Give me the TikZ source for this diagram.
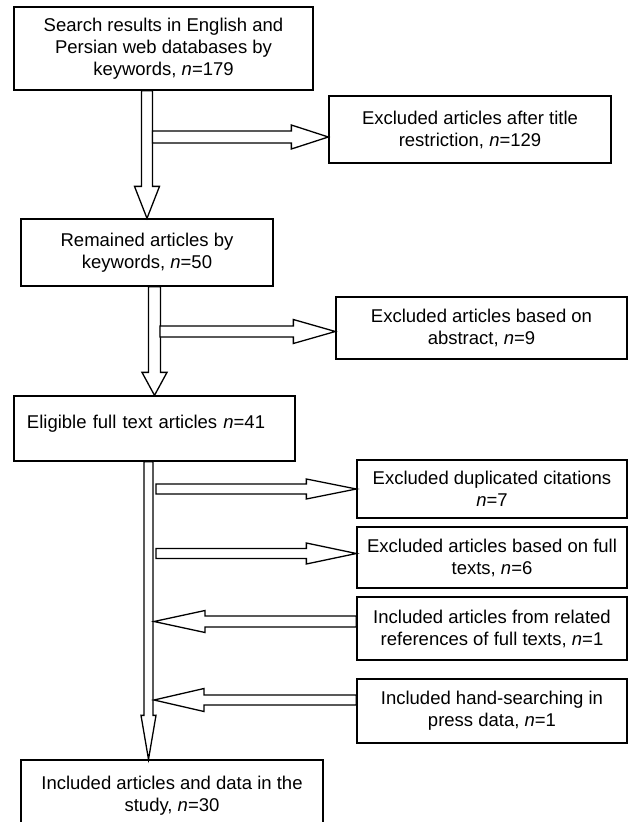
\documentclass[tikz,border=0pt]{standalone}
\usepackage{fontspec}
\setmainfont{Liberation Sans}
\usetikzlibrary{calc}

\newcommand{\nn}[1]{\textit{n}=#1}
% from, to, shaft half width, head half width, head length
\newcommand{\fatarrow}[5]{%
  \coordinate (fa-h) at ($(#2)!#5!(#1)$);
  \draw[fatline] ($(#1)!#3!90:(#2)$) -- ($(fa-h)!#3!90:(#2)$)
    -- ($(fa-h)!#4!90:(#2)$) -- (#2) -- ($(fa-h)!#4!-90:(#2)$)
    -- ($(fa-h)!#3!-90:(#2)$) -- ($(#1)!#3!-90:(#2)$) -- cycle;
}

\begin{document}
\begin{tikzpicture}[x=1pt, y=-1pt, line width=1.3pt,
    box/.style={draw, align=center, inner sep=2pt, font=\fontsize{18.5}{22}\selectfont},
    fatline/.style={draw, fill=white, line join=miter}]
    \clip (0,0) rectangle (628,822);

    % Main column
    \node[box, minimum width=299pt, minimum height=83pt] (search) at (163.5,48.5)
        {Search results in English and\\ Persian web databases by\\ keywords, \nn{179}};
    \node[box, minimum width=252pt, minimum height=67pt] (remained) at (147,252.5)
        {Remained articles by\\ keywords, \nn{50}};
    \node[box, align=left, text width=255pt, inner xsep=13pt, text depth=14pt,
        minimum height=65pt] (eligible) at (154.5,428.5)
        {Eligible full text articles \nn{41}};
    \node[box, minimum width=302pt, minimum height=72pt] (included) at (172,796)
        {Included articles and data in the\\ study, \nn{30}};

    % Side boxes
    \node[box, minimum width=282pt, minimum height=67pt] (titleex) at (470,129.5)
        {Excluded articles after title\\ restriction, \nn{129}};
    \node[box, minimum width=291pt, minimum height=62pt] (abstractex) at (481.5,328)
        {Excluded articles based on\\ abstract, \nn{9}};
    \node[box, minimum width=270pt, minimum height=58pt] (dup) at (492,489)
        {Excluded duplicated citations\\ \nn{7}};
    \node[box, minimum width=270pt, minimum height=61pt] (fulltxt) at (492,557.5)
        {Excluded articles based on full\\ texts, \nn{6}};
    \node[box, minimum width=270pt, minimum height=63pt] (related) at (492,628.5)
        {Included articles from related\\ references of full texts, \nn{1}};
    \node[box, minimum width=270pt, minimum height=64pt] (hand) at (492,711)
        {Included hand-searching in\\ press data, \nn{1}};

    % Arrow ends
    \coordinate (a1s) at (search.south -| remained.north);
    \coordinate (a2s) at (remained.south -| eligible.north);
    \coordinate (a3s) at ($(eligible.south)+(-6,0)$);
    \coordinate (a3e) at (a3s |- included.north);
    \coordinate (b1e) at ($(titleex.west)+(0,7.5)$);
    \coordinate (b1s) at ($(b1e -| a1s)+(5.5,0)$);
    \coordinate (b2e) at ($(abstractex.west)+(0,3.5)$);
    \coordinate (b2s) at ($(b2e -| a2s)+(5.5,0)$);
    \coordinate (c1e) at (dup.west);
    \coordinate (c1s) at ($(c1e -| a3s)+(7.5,0)$);
    \coordinate (c2e) at ($(fulltxt.west)+(0,-4)$);
    \coordinate (c2s) at ($(c2e -| a3s)+(7.5,0)$);
    \coordinate (c3s) at ($(related.west)+(0,-7)$);
    \coordinate (c3e) at ($(c3s -| a3s)+(5.5,0)$);
    \coordinate (c4s) at ($(hand.west)+(0,-11)$);
    \coordinate (c4e) at ($(c4s -| a3s)+(5.5,0)$);

    % Block arrows
    \fatarrow{a1s}{remained.north}{5.5pt}{12.5pt}{32pt}
    \fatarrow{b1s}{b1e}{6pt}{12pt}{37pt}
    \fatarrow{a2s}{eligible.north}{6pt}{12.5pt}{23pt}
    \fatarrow{b2s}{b2e}{5.5pt}{12pt}{42pt}
    \fatarrow{a3s}{a3e}{4.5pt}{7.5pt}{44pt}
    \fatarrow{c1s}{c1e}{5pt}{10pt}{50pt}
    \fatarrow{c2s}{c2e}{5pt}{10.5pt}{50pt}
    \fatarrow{c3s}{c3e}{5.5pt}{11pt}{51pt}
    \fatarrow{c4s}{c4e}{5pt}{11.5pt}{50pt}
\end{tikzpicture}
\end{document}
